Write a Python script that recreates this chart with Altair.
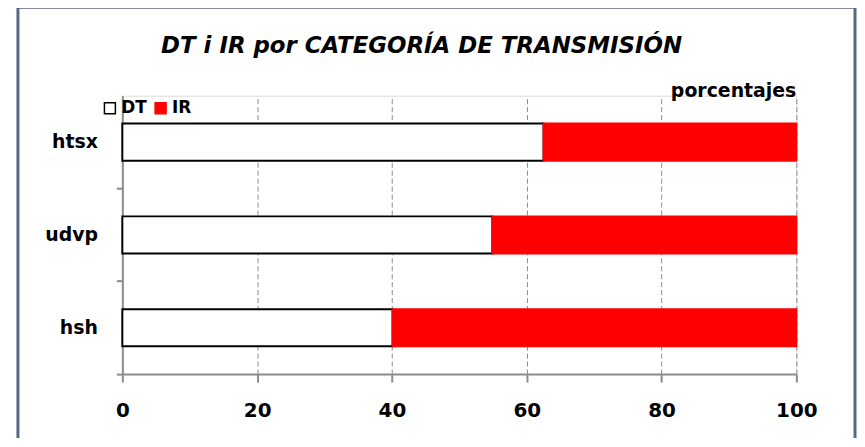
import altair as alt
import pandas as pd

categorias = ["htsx", "udvp", "hsh"]
dt_valores = [62.5, 54.9, 40.1]
ir_valores = [37.5, 45.1, 59.9]
series = ["DT", "IR"]
colores = ["#ffffff", "#ff0000"]
bordes = ["#000000", "#ff0000"]
x_ticks = [0, 20, 40, 60, 80, 100]

titulo = "DT i IR por CATEGORÍA DE TRANSMISIÓN"
unidad = "porcentajes"

rows = []
for c, d, i in zip(categorias, dt_valores, ir_valores):
    rows.append({"categoria": c, "serie": "DT", "valor": d})
    rows.append({"categoria": c, "serie": "IR", "valor": i})
df = pd.DataFrame(rows)

FONT = "DejaVu Sans"
W, H = 678, 280

legend_cfg = dict(
    orient="none", legendX=-21, legendY=4, direction="horizontal", title=None,
    symbolType="square", symbolSize=121, symbolStrokeWidth=1.5,
    labelFont=FONT, labelFontSize=17, labelFontWeight="bold", labelColor="black",
    labelOffset=3, columnPadding=5,
)

bars = alt.Chart(df).mark_bar(height={"band": 0.4}, strokeWidth=2).encode(
    x=alt.X("valor:Q", stack="zero",
            scale=alt.Scale(domain=[0, 100], nice=False),
            axis=alt.Axis(values=x_ticks, title=None, grid=True, gridDash=[5, 3],
                          gridColor="#8c8c8c", gridWidth=1,
                          domainColor="#8c8c8c", domainWidth=2,
                          tickColor="#8c8c8c", tickWidth=2, tickSize=8,
                          labelFont=FONT, labelFontSize=20, labelFontWeight="bold",
                          labelColor="black", labelPadding=19, labelFlush=False)),
    y=alt.Y("categoria:N", sort=categorias,
            scale=alt.Scale(paddingInner=0, paddingOuter=0),
            axis=alt.Axis(title=None, grid=False, bandPosition=1,
                          domainColor="#8c8c8c", domainWidth=2,
                          tickColor="#8c8c8c", tickWidth=2, tickSize=6,
                          labelFont=FONT, labelFontSize=19, labelFontWeight="bold",
                          labelColor="black", labelPadding=19)),
    color=alt.Color("serie:N", scale=alt.Scale(domain=series, range=colores),
                    legend=alt.Legend(**legend_cfg)),
    stroke=alt.Stroke("serie:N", scale=alt.Scale(domain=series, range=bordes),
                      legend=alt.Legend(**legend_cfg)),
    order=alt.Order("serie:N", sort="ascending"),
)

one = pd.DataFrame({"t": [unidad], "titulo": [titulo]})
label = alt.Chart(one).mark_text(
    font=FONT, fontSize=19, fontWeight="bold", color="black",
    align="right", baseline="alphabetic",
).encode(text="t:N", x=alt.value(W), y=alt.value(1))

title_mark = alt.Chart(one).mark_text(
    font=FONT, fontSize=23, fontWeight="bold", fontStyle="italic", color="black",
    align="center", baseline="middle",
).encode(text="titulo:N", x=alt.value(301), y=alt.value(-50))

frame = alt.Chart(one).mark_rect(
    fill=None, fillOpacity=0, stroke="#5b6586", strokeWidth=3
).encode(x=alt.value(-105), x2=alt.value(737), y=alt.value(-89), y2=alt.value(420))

chart = alt.layer(frame, bars, label, title_mark).properties(
    width=W, height=H,
    padding={"left": 115, "top": 87, "right": 61, "bottom": 63},
    autosize=alt.AutoSizeParams(type="none"),
).configure_view(stroke=None).configure(background="white")

chart.save("out.html", embed_options={"renderer": "svg", "actions": False})
